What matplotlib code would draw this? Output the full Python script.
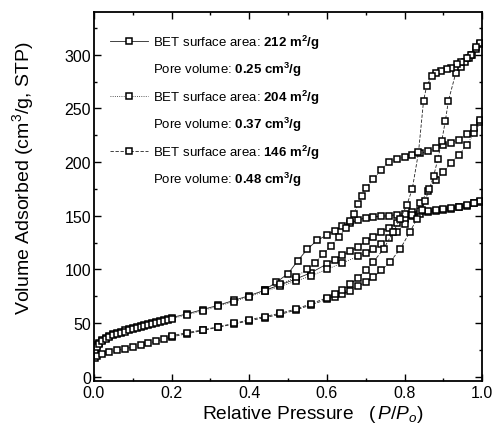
import matplotlib
matplotlib.use("Agg")
import matplotlib.pyplot as plt
from matplotlib.lines import Line2D
from matplotlib.ticker import MultipleLocator, FormatStrFormatter

plt.rcParams['font.family'] = ['Liberation Sans', 'DejaVu Sans']
plt.rcParams['mathtext.fontset'] = 'custom'
plt.rcParams['mathtext.rm'] = 'Liberation Sans'
plt.rcParams['mathtext.bf'] = 'Liberation Sans:bold'
plt.rcParams['mathtext.it'] = 'Liberation Sans:italic'

# N2 isotherms: relative pressure and adsorbed volume (cm3/g STP)
low_p = [0.003, 0.007, 0.012, 0.02, 0.03, 0.04, 0.05, 0.06, 0.07, 0.08, 0.09, 0.1,
         0.11, 0.12, 0.13, 0.14, 0.15, 0.16, 0.17, 0.18, 0.19, 0.2, 0.24, 0.28, 0.32,
         0.36, 0.4, 0.44]

# sample 1: 212 m2/g, 0.25 cm3/g
s1_ads_p = low_p + [0.48, 0.52, 0.56, 0.6, 0.62, 0.64, 0.66, 0.68, 0.7, 0.72, 0.74, 0.76,
                    0.78, 0.8, 0.82, 0.84, 0.86, 0.88, 0.9, 0.92, 0.94, 0.96, 0.98, 0.995]
s1_ads_v = [26, 29, 31.5, 34, 36, 38, 39.5, 41, 42, 43, 44, 45,
            46, 47, 48, 49, 50, 51, 52, 53, 54, 55, 58.5, 62.5, 66.5,
            71, 75.5, 80.5,
            85.5, 91, 97, 105, 109, 113, 117, 121, 126, 130, 135, 139,
            143, 147, 150, 152, 153.5, 154.5, 155.5, 156.5, 158, 159.5, 161.5, 163]
s1_des_p = [0.995, 0.98, 0.96, 0.94, 0.92, 0.9, 0.88, 0.86, 0.84, 0.82, 0.8, 0.78, 0.76,
            0.74, 0.72, 0.7, 0.68, 0.66, 0.64, 0.62, 0.6, 0.575, 0.55, 0.525, 0.5, 0.47, 0.44]
s1_des_v = [164, 162, 160, 158.5, 157, 156, 155, 154.5, 154, 153, 152, 151, 150,
            149.5, 149, 148, 146, 143, 140, 136, 132, 127, 119, 108, 96, 88, 81]

# sample 2: 204 m2/g, 0.37 cm3/g
s2_ads_p = low_p + [0.48, 0.52, 0.56, 0.6, 0.64, 0.68, 0.7, 0.72, 0.74, 0.76, 0.78, 0.8,
                    0.82, 0.84, 0.86, 0.88, 0.9, 0.92, 0.94, 0.96, 0.98, 0.995]
s2_ads_v = [24, 28, 30.5, 33, 35, 37, 38.5, 40, 41, 42, 43, 44,
            45, 46, 47, 48, 49, 50, 51, 52, 53, 54, 57.5, 61.5, 65.5,
            70, 74.5, 79.5,
            84, 89, 94, 100, 106, 112, 115, 119, 124, 129, 135, 142,
            151, 162, 173, 183, 191, 199, 207, 216, 227, 237]
s2_des_p = [0.995, 0.98, 0.96, 0.94, 0.92, 0.9, 0.88, 0.86, 0.84, 0.82, 0.8, 0.78, 0.76,
            0.74, 0.72, 0.7, 0.69, 0.68, 0.67, 0.66, 0.65, 0.63, 0.61, 0.59, 0.57, 0.55,
            0.52, 0.48, 0.44]
s2_des_v = [239, 232, 226, 221, 218, 216, 213, 210, 208, 207, 205, 203, 200,
            193, 184, 176, 168, 161, 152, 145, 139, 130, 122, 114, 106, 100,
            93, 86, 80]

# sample 3: 146 m2/g, 0.48 cm3/g
s3_ads_p = [0.003, 0.007, 0.02, 0.04, 0.06, 0.08, 0.1, 0.12, 0.14, 0.16, 0.18, 0.2,
            0.24, 0.28, 0.32, 0.36, 0.4, 0.44, 0.48, 0.52, 0.56, 0.6, 0.62, 0.64, 0.66,
            0.68, 0.7, 0.72, 0.74, 0.763, 0.789, 0.814, 0.832, 0.845, 0.853, 0.864,
            0.875, 0.886, 0.896, 0.905, 0.913, 0.932, 0.945, 0.955, 0.965, 0.975,
            0.985, 0.995]
s3_ads_v = [17, 19, 21.5, 23, 24.5, 26, 27.5, 29, 31, 33, 35, 37,
            40, 43, 46, 49, 52, 55, 58, 62, 67, 72, 74.5, 77, 80,
            84, 88, 93, 99, 107, 119, 135, 147, 155, 164, 175,
            187, 203, 220, 238, 257, 283, 289, 293, 297, 300,
            305, 310]
s3_des_p = [0.995, 0.985, 0.97, 0.96, 0.945, 0.935, 0.92, 0.909, 0.895, 0.88, 0.87,
            0.857, 0.849, 0.836, 0.82, 0.806, 0.789, 0.771, 0.746, 0.72, 0.7, 0.68,
            0.66, 0.64, 0.62, 0.6, 0.56, 0.52, 0.48, 0.44, 0.4, 0.36, 0.32, 0.28, 0.24,
            0.2]
s3_des_v = [311, 307, 300, 297, 293, 291, 288, 287, 285, 283, 280,
            271, 257, 209, 175, 160, 147, 135, 119, 107, 99, 92,
            86, 81, 77, 73.5, 68, 63, 59, 56, 53, 49.5, 46.5, 43.5, 41,
            38]

bet_area = ['212', '204', '146']
pore_vol = ['0.25', '0.37', '0.48']
styles = ['-', ':', (0, (4, 2))]

fig = plt.figure(figsize=(4.92, 4.31), dpi=100)
ax = fig.add_axes([0.191, 0.114, 0.789, 0.856])

samples = [(s1_ads_p, s1_ads_v, s1_des_p, s1_des_v),
           (s2_ads_p, s2_ads_v, s2_des_p, s2_des_v),
           (s3_ads_p, s3_ads_v, s3_des_p, s3_des_v)]

mk = dict(marker='s', markersize=4.6, markerfacecolor='white',
          markeredgecolor='black', markeredgewidth=1.1, color='#222222', linewidth=0.6)

handles = []
labels = []
blank = Line2D([], [], linestyle='none', marker='none')
for (ap, av, dp, dv), ls, area, pv in zip(samples, styles, bet_area, pore_vol):
    ax.plot(ap, av, linestyle=ls, **mk)
    ax.plot(dp, dv, linestyle=ls, **mk)
    handles.append(Line2D([], [], linestyle=ls, **mk))
    labels.append(r'BET surface area: $\mathbf{%s\ m^2/g}$' % area)
    handles.append(blank)
    labels.append(r'Pore volume: $\mathbf{%s\ cm^3/g}$' % pv)

leg = ax.legend(handles, labels, loc='upper left', bbox_to_anchor=(0.02, 0.965),
                frameon=False, fontsize=9.5, handlelength=2.9, handletextpad=0.4,
                labelspacing=0.7, borderaxespad=0.2)

ax.set_xlim(0, 1.0)
ax.set_ylim(-4, 340)
ax.xaxis.set_major_locator(MultipleLocator(0.2))
ax.xaxis.set_minor_locator(MultipleLocator(0.1))
ax.yaxis.set_major_locator(MultipleLocator(50))
ax.yaxis.set_minor_locator(MultipleLocator(25))
ax.xaxis.set_major_formatter(FormatStrFormatter('%.1f'))
ax.tick_params(which='both', direction='in', top=True, right=True, width=1.0,
               labelsize=11.5)
ax.tick_params(axis='y', pad=2)
ax.tick_params(axis='x', pad=3)
ax.tick_params(which='major', length=5)
ax.tick_params(which='minor', length=2.5)
for s in ax.spines.values():
    s.set_linewidth(1.3)

ax.set_xlabel(r'Relative Pressure   $(\,P/P_o)$', fontsize=13.8)
ax.xaxis.set_label_coords(0.565, -0.06)
ax.set_ylabel(r'Volume Adsorbed (cm$^3$/g, STP)', fontsize=14)
ax.yaxis.set_label_coords(-0.15, 0.553)

fig.savefig('out.png', dpi=100)
